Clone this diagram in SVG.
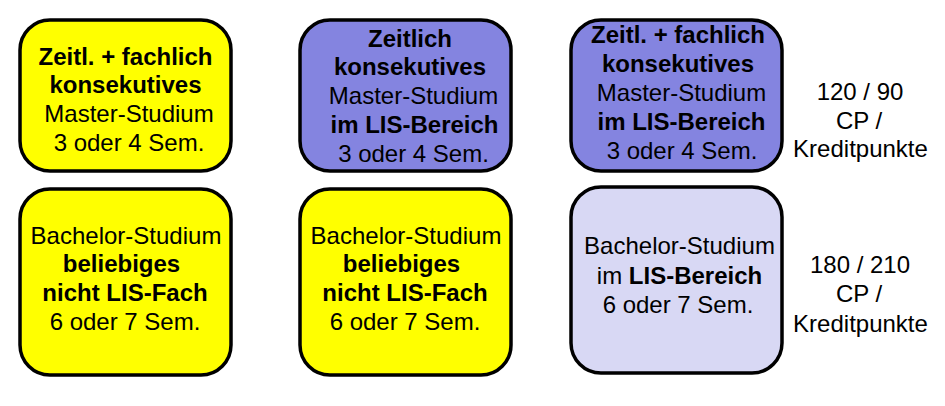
<svg xmlns="http://www.w3.org/2000/svg" width="945" height="406" viewBox="0 0 945 406">
<style>
.box{stroke:#000;stroke-width:3.5}
.y{fill:#FFFF00}
.p{fill:#8484E0}
.l{fill:#D8D8F4}
text{font-family:"Liberation Sans",Arial,sans-serif;font-size:24px;fill:#000;text-anchor:middle}
.b{font-weight:bold}
</style>
<rect width="945" height="406" fill="#fff"/>
<g id="master-yellow-1">
<rect class="box y" x="20" y="20" width="211" height="151" rx="30"/>
<text x="125.5" y="65" class="b">Zeitl. + fachlich</text>
<text x="125.5" y="93" class="b">konsekutives</text>
<text x="129" y="122">Master-Studium</text>
<text x="129" y="151">3 oder 4 Sem.</text>
</g>
<g id="master-purple-2">
<rect class="box p" x="300" y="20" width="211" height="151" rx="30"/>
<text x="410" y="47" class="b">Zeitlich</text>
<text x="410" y="75" class="b">konsekutives</text>
<text x="413.5" y="104">Master-Studium</text>
<text x="414.5" y="133" class="b">im LIS-Bereich</text>
<text x="413.5" y="162">3 oder 4 Sem.</text>
</g>
<g id="master-purple-3">
<rect class="box p" x="571" y="20" width="211" height="151" rx="30"/>
<text x="678" y="43" class="b">Zeitl. + fachlich</text>
<text x="678" y="72" class="b">konsekutives</text>
<text x="681.5" y="101">Master-Studium</text>
<text x="681.5" y="130" class="b">im LIS-Bereich</text>
<text x="682" y="158.5">3 oder 4 Sem.</text>
</g>
<g id="cp-master">
<text x="860" y="100">120 / 90</text>
<text x="859" y="128.5">CP /</text>
<text x="860.5" y="157">Kreditpunkte</text>
</g>
<g id="bachelor-yellow-1">
<rect class="box y" x="20" y="189" width="211" height="186" rx="30"/>
<text x="126" y="243.5">Bachelor-Studium</text>
<text x="121.5" y="272" class="b">beliebiges</text>
<text x="125" y="301" class="b">nicht LIS-Fach</text>
<text x="125" y="330">6 oder 7 Sem.</text>
</g>
<g id="bachelor-yellow-2">
<rect class="box y" x="300" y="189" width="211" height="186" rx="30"/>
<text x="406" y="243.5">Bachelor-Studium</text>
<text x="401.5" y="272" class="b">beliebiges</text>
<text x="405" y="301" class="b">nicht LIS-Fach</text>
<text x="405" y="330">6 oder 7 Sem.</text>
</g>
<g id="bachelor-light-3">
<rect class="box l" x="571" y="187" width="211" height="186" rx="30"/>
<text x="679.5" y="254">Bachelor-Studium</text>
<text x="679.5" y="283.5">im <tspan class="b">LIS-Bereich</tspan></text>
<text x="678" y="313">6 oder 7 Sem.</text>
</g>
<g id="cp-bachelor">
<text x="860" y="273">180 / 210</text>
<text x="859" y="302">CP /</text>
<text x="860.5" y="332">Kreditpunkte</text>
</g>
<g id="connectors"></g>
</svg>
